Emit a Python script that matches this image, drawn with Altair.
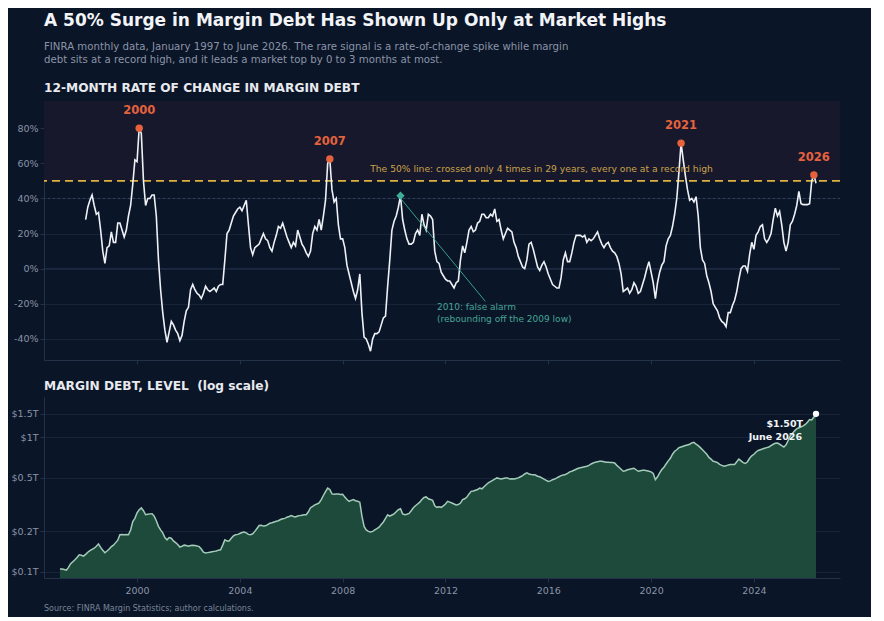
import altair as alt
import pandas as pd

# ---------------- data ----------------
ROC_START_YEAR = 1998  # 12-month rate of change, monthly from Jan 1998 (%)
roc_1998_2005 = [
    28, 35, 39, 42, 36, 31, 32, 22, 10, 3, 12, 13,
    21, 15, 15, 26, 26, 22, 18, 22, 30, 36, 48, 62,
    61, 80, 77, 50, 36, 40, 40, 42, 42, 30, 5, -12,
    -25, -35, -42, -36, -30, -32, -35, -37, -41, -38, -30, -24,
    -22, -12, -9, -12, -14, -15, -17, -14, -10, -12, -13, -12,
    -11, -13, -10, -9, -9, 5, 20, 22, 26, 30, 32, 34,
    35, 33, 36, 39, 25, 12, 8, 12, 13, 14, 17, 20,
    17, 16, 12, 10, 15, 19, 24, 23, 26, 22, 18, 15,
]
roc_2006_2013 = [
    12, 15, 13, 22, 18, 14, 12, 9, 7, 10, 20, 24,
    22, 28, 22, 30, 39, 60, 62.5, 45, 38, 40, 25, 17,
    17, 12, 2, -3, -8, -13, -17, -12, -3, -25, -39, -40,
    -43, -47, -40, -37, -37, -36, -32, -28, -27, -10, 5, 22,
    27, 30, 35, 41.6, 28, 22, 17, 14, 14, 15, 20, 22,
    19, 31, 25, 22, 31, 30, 28, 10, 4, 3, -2, -4,
    -6, -7, -7, -9, -11, -8, -7, 5, 13, 9, 15, 22,
    24, 21, 22, 26, 27, 31, 31, 29, 29, 31, 30, 34,
]
roc_2014_2021 = [
    27, 28, 22, 17, 20, 23, 22, 21, 15, 12, 7, 4,
    1, 0, 5, 14, 15, 11, 6, 1, -1, 2, 4, 1,
    -3, -6, -9, -10, -11, -11, -5, 5, 9, 4, 4, 9,
    15, 19, 19, 19, 18, 19, 15, 17, 16, 17, 19, 21,
    17, 14, 12, 14, 15, 12, 10, 9, 7, 3, -3, -13,
    -12, -11, -14, -12, -8, -10, -14, -13, -9, -5, 0, 4,
    -2, -8, -17, -8, -2, 2, 4, 13, 17, 19, 24, 31,
    40, 55, 71.5, 62, 53, 45, 39, 40, 38, 41, 30, 12,
]
roc_2022_2026 = [
    5, 3, -4, -8, -13, -20, -22, -24, -28, -30, -31, -33,
    -25, -25, -21, -18, -13, -6, 0, 1.5, 1.5, -1.5, 8, 15,
    11, 19, 21, 24, 25, 17, 15, 17, 20, 28, 34.5, 30,
    32.6, 25, 15, 10, 15, 25, 27, 31, 36, 44, 37, 36.5,
    36.5, 36.5, 37, 50, 53.4, 48.7,
]
roc_values = roc_1998_2005 + roc_2006_2013 + roc_2014_2021 + roc_2022_2026

LEVEL_START_YEAR = 1997  # margin debt level, monthly from Jan 1997 ($ trillion)
level_1997_2006 = [
    0.105, 0.105, 0.104, 0.103, 0.108, 0.115, 0.119, 0.123, 0.128, 0.134, 0.133, 0.131,
    0.135, 0.140, 0.144, 0.147, 0.150, 0.155, 0.161, 0.152, 0.145, 0.139, 0.143, 0.148,
    0.154, 0.158, 0.165, 0.172, 0.189, 0.190, 0.189, 0.190, 0.189, 0.205, 0.237, 0.250,
    0.275, 0.290, 0.299, 0.285, 0.266, 0.268, 0.270, 0.271, 0.260, 0.240, 0.218, 0.205,
    0.195, 0.180, 0.173, 0.180, 0.178, 0.170, 0.165, 0.160, 0.153, 0.155, 0.158, 0.157,
    0.155, 0.157, 0.158, 0.157, 0.156, 0.154, 0.148, 0.140, 0.138, 0.139, 0.140, 0.141,
    0.142, 0.143, 0.145, 0.146, 0.158, 0.173, 0.170, 0.170, 0.178, 0.185, 0.189, 0.190,
    0.193, 0.196, 0.198, 0.195, 0.190, 0.189, 0.192, 0.200, 0.210, 0.221, 0.222, 0.219,
    0.220, 0.225, 0.230, 0.232, 0.235, 0.238, 0.240, 0.245, 0.248, 0.250, 0.255, 0.258,
    0.262, 0.258, 0.256, 0.260, 0.262, 0.264, 0.266, 0.266, 0.280, 0.300, 0.307, 0.315,
]
level_2007_2016 = [
    0.320, 0.326, 0.345, 0.370, 0.395, 0.420, 0.410, 0.380, 0.378, 0.380, 0.380, 0.376,
    0.378, 0.360, 0.345, 0.335, 0.340, 0.345, 0.338, 0.335, 0.330, 0.260, 0.218, 0.205,
    0.200, 0.198, 0.200, 0.205, 0.210, 0.215, 0.225, 0.235, 0.250, 0.266, 0.260, 0.265,
    0.270, 0.280, 0.290, 0.295, 0.270, 0.266, 0.268, 0.272, 0.285, 0.300, 0.310, 0.320,
    0.330, 0.345, 0.358, 0.361, 0.350, 0.345, 0.340, 0.310, 0.302, 0.305, 0.302, 0.310,
    0.320, 0.335, 0.330, 0.325, 0.320, 0.315, 0.317, 0.325, 0.345, 0.350, 0.360, 0.380,
    0.397, 0.400, 0.405, 0.410, 0.420, 0.415, 0.430, 0.445, 0.460, 0.470, 0.480, 0.490,
    0.500, 0.495, 0.490, 0.495, 0.500, 0.500, 0.490, 0.492, 0.490, 0.495, 0.500, 0.510,
    0.520, 0.535, 0.545, 0.535, 0.530, 0.528, 0.525, 0.515, 0.510, 0.500, 0.490, 0.480,
    0.470, 0.475, 0.485, 0.490, 0.500, 0.510, 0.520, 0.525, 0.530, 0.540, 0.555, 0.560,
]
level_2017_2026 = [
    0.570, 0.580, 0.590, 0.595, 0.600, 0.605, 0.610, 0.620, 0.635, 0.645, 0.655, 0.660,
    0.665, 0.665, 0.660, 0.655, 0.655, 0.650, 0.650, 0.645, 0.620, 0.600, 0.580, 0.560,
    0.565, 0.575, 0.580, 0.585, 0.590, 0.575, 0.560, 0.565, 0.570, 0.570, 0.565, 0.560,
    0.555, 0.540, 0.485, 0.510, 0.545, 0.577, 0.600, 0.635, 0.670, 0.700, 0.750, 0.790,
    0.810, 0.840, 0.850, 0.860, 0.870, 0.880, 0.890, 0.910, 0.920, 0.890, 0.870, 0.840,
    0.810, 0.780, 0.750, 0.710, 0.690, 0.665, 0.660, 0.650, 0.630, 0.620, 0.610, 0.615,
    0.625, 0.628, 0.630, 0.630, 0.660, 0.690, 0.670, 0.650, 0.640, 0.660, 0.700, 0.730,
    0.750, 0.780, 0.800, 0.810, 0.820, 0.830, 0.840, 0.850, 0.870, 0.890, 0.905, 0.910,
    0.890, 0.870, 0.850, 0.880, 0.950, 1.030, 1.070, 1.120, 1.160, 1.180, 1.200, 1.220,
    1.250, 1.300, 1.360, 1.350, 1.420, 1.500,
]
level_values = level_1997_2006 + level_2007_2016 + level_2017_2026

peak_labels = ["2000", "2007", "2021", "2026"]
peak_months = [(2000, 2), (2007, 7), (2021, 3), (2026, 5)]
peak_values = [80.0, 62.5, 71.5, 53.4]

false_alarm_month = (2010, 4)
false_alarm_value = 41.6

year_ticks = [2000, 2004, 2008, 2012, 2016, 2020, 2024]
roc_ticks = [-40, -20, 0, 20, 40, 60, 80]
level_ticks = [0.1, 0.2, 0.5, 1, 1.5]
MONTH_NAMES = ["January", "February", "March", "April", "May", "June", "July",
               "August", "September", "October", "November", "December"]

TITLE = "A 50% Surge in Margin Debt Has Shown Up Only at Market Highs"
SUB1 = ("FINRA monthly data, January 1997 to June 2026. The rare signal is a "
        "rate-of-change spike while margin")
SUB2 = "debt sits at a record high, and it leads a market top by 0 to 3 months at most."
HEAD1 = "12-MONTH RATE OF CHANGE IN MARGIN DEBT"
HEAD2 = "MARGIN DEBT, LEVEL\u00a0 (log scale)"
LINE50_NOTE = "The 50% line: crossed only 4 times in 29 years, every one at a record high"
FALSE_NOTE = "2010: false alarm\n(rebounding off the 2009 low)"
SOURCE = "Source: FINRA Margin Statistics; author calculations."

# ---------------- frames ----------------
def mdate(y, m):
    return y + (m - 1) / 12.0

roc_df = pd.DataFrame({
    "t": [ROC_START_YEAR + i / 12.0 for i in range(len(roc_values))],
    "roc": roc_values,
})
lvl_df = pd.DataFrame({
    "t": [LEVEL_START_YEAR + i / 12.0 for i in range(len(level_values))],
    "lvl": level_values,
})
peak_df = pd.DataFrame({
    "t": [mdate(y, m) for y, m in peak_months],
    "roc": peak_values,
    "label": peak_labels,
})
fa_df = pd.DataFrame({"t": [mdate(*false_alarm_month)], "roc": [false_alarm_value]})
arrow_df = pd.DataFrame({"t": [2013.55], "roc": [-18.6],
                         "t2": [mdate(*false_alarm_month)], "roc2": [false_alarm_value - 1.5]})
fa_text_df = pd.DataFrame({"t": [2011.67], "roc": [-23.6], "label": [FALSE_NOTE]})
note50_df = pd.DataFrame({"t": [2009.07], "roc": [55.1], "label": [LINE50_NOTE]})
shade_df = pd.DataFrame({"lo": [50], "hi": [95.5]})
last_n = len(level_values) - 1
last_year = LEVEL_START_YEAR + last_n // 12
last_month = last_n % 12
last_df = pd.DataFrame({
    "t": [lvl_df["t"].iloc[-1]],
    "lvl": [level_values[-1]],
    "val": [f"${level_values[-1]:.2f}T"],
    "when": [f"{MONTH_NAMES[last_month]} {last_year}"],
})
one = pd.DataFrame({"k": [0]})

# ---------------- style ----------------
FONT = "DejaVu Sans"
BG = "#0a1528"
SHADE = "#17182c"
GRID = "#17243a"
AXIS_C = "#243249"
LABEL_C = "#8a94a6"
WHITE = "#eef1f5"
ORANGE = "#e5623d"
GOLD = "#dcb13e"
TEAL = "#3cae98"
TEAL_TXT = "#45a596"
AREA = "#1e4a3c"
AREA_LINE = "#a3cbb8"

W = 796
H_TOP = 259
H_LOW = 181
LEFT_ROOM = 36
TOP_ROOM = 93
X_DOMAIN = [1996.38, 2027.35]

x_scale = alt.Scale(domain=X_DOMAIN, nice=False, zero=False)
top_x_axis = alt.Axis(values=year_ticks, labels=False, title=None, grid=False,
                      ticks=True, tickSize=4, tickColor=AXIS_C, domainColor=AXIS_C)
low_x_axis = alt.Axis(values=year_ticks, format="d", title=None, grid=False,
                      ticks=True, tickSize=4, tickColor=AXIS_C, domainColor=AXIS_C,
                      labelPadding=3)
top_y_scale = alt.Scale(domain=[-52, 95.5], nice=False, zero=False)
top_y_axis = alt.Axis(values=roc_ticks, labelExpr="datum.value + '%'", title=None,
                      grid=True, gridColor=GRID, tickSize=4, tickColor=AXIS_C,
                      domainColor=AXIS_C, labelPadding=2)
low_y_scale = alt.Scale(type="log", domain=[0.09, 2.0], nice=False)
low_y_axis = alt.Axis(values=level_ticks, labelExpr="'$' + datum.value + 'T'", title=None,
                      grid=True, gridColor=GRID, tickSize=4, tickColor=AXIS_C,
                      domainColor=AXIS_C, labelPadding=2)


def tx(field="t"):
    return alt.X(f"{field}:Q", scale=x_scale, axis=top_x_axis)


def ty(field="roc"):
    return alt.Y(f"{field}:Q", scale=top_y_scale, axis=top_y_axis)


# ---------------- top panel ----------------
frame = alt.Chart(one).mark_rect(opacity=0).encode(
    x=alt.value(-LEFT_ROOM), x2=alt.value(W), y=alt.value(-TOP_ROOM), y2=alt.value(0))
shade = alt.Chart(shade_df).mark_rect(color=SHADE).encode(
    x=alt.value(0), x2=alt.value(W), y=ty("lo"), y2="hi:Q")
rule40 = alt.Chart(pd.DataFrame({"roc": [40]})).mark_rule(
    color="#34445c", strokeDash=[2, 3], strokeWidth=1).encode(y=ty())
rule0 = alt.Chart(pd.DataFrame({"roc": [0]})).mark_rule(
    color="#1f2e46", strokeWidth=1).encode(y=ty())
rule50 = alt.Chart(pd.DataFrame({"roc": [50]})).mark_rule(
    color=GOLD, strokeDash=[8, 5], strokeWidth=1.8).encode(y=ty())
roc_line = alt.Chart(roc_df).mark_line(color=WHITE, strokeWidth=1.6).encode(x=tx(), y=ty())
note50 = alt.Chart(note50_df).mark_text(
    font=FONT, fontSize=9.2, color="#c9a24a", align="left", baseline="alphabetic"
).encode(x=tx(), y=ty(), text="label:N")
arrow = alt.Chart(arrow_df).mark_rule(color=TEAL, strokeWidth=1, opacity=0.9).encode(
    x=tx(), y=ty(), x2="t2:Q", y2="roc2:Q")
fa_pt = alt.Chart(fa_df).mark_point(shape="diamond", filled=True, color=TEAL, size=70,
                                    opacity=1).encode(x=tx(), y=ty())
fa_text = alt.Chart(fa_text_df).mark_text(
    font=FONT, fontSize=9, color=TEAL_TXT, align="left", baseline="alphabetic",
    lineBreak="\n", lineHeight=11.5).encode(x=tx(), y=ty(), text="label:N")
peak_pts = alt.Chart(peak_df).mark_circle(color=ORANGE, size=55, opacity=1).encode(
    x=tx(), y=ty())
peak_txt = alt.Chart(peak_df).mark_text(
    font=FONT, fontSize=11.5, fontWeight="bold", color=ORANGE, baseline="middle", dy=-17
).encode(x=tx(), y=ty(), text="label:N")

title_t = alt.Chart(one).mark_text(text=TITLE, font=FONT, fontSize=17, fontWeight="bold",
                                   color="#f2f4f7", align="left", baseline="alphabetic"
                                   ).encode(x=alt.value(0), y=alt.value(-75))
sub1_t = alt.Chart(one).mark_text(text=SUB1, font=FONT, fontSize=10.2, color=LABEL_C,
                                  align="left", baseline="alphabetic"
                                  ).encode(x=alt.value(0), y=alt.value(-51.5))
sub2_t = alt.Chart(one).mark_text(text=SUB2, font=FONT, fontSize=10.2, color=LABEL_C,
                                  align="left", baseline="alphabetic"
                                  ).encode(x=alt.value(0), y=alt.value(-38.5))
head1_t = alt.Chart(one).mark_text(text=HEAD1, font=FONT, fontSize=12.2, fontWeight="bold",
                                   color="#e8eaee", align="left", baseline="alphabetic"
                                   ).encode(x=alt.value(0), y=alt.value(-9))

top = alt.layer(
    frame, shade, rule0, rule40, rule50, roc_line, note50, arrow, fa_pt, fa_text,
    peak_pts, peak_txt, title_t, sub1_t, sub2_t, head1_t
).properties(width=W, height=H_TOP)


# ---------------- lower panel ----------------
def lx(field="t"):
    return alt.X(f"{field}:Q", scale=x_scale, axis=low_x_axis)


def ly(field="lvl"):
    return alt.Y(f"{field}:Q", scale=low_y_scale, axis=low_y_axis, stack=None)


area = alt.Chart(lvl_df).mark_area(color=AREA, opacity=1).encode(
    x=lx(), y=ly(), y2=alt.value(H_LOW))
area_line = alt.Chart(lvl_df).mark_line(color=AREA_LINE, strokeWidth=1.5).encode(
    x=lx(), y=ly())
last_pt = alt.Chart(last_df).mark_circle(color="#ffffff", size=40, opacity=1).encode(
    x=lx(), y=ly())
last_val = alt.Chart(last_df).mark_text(
    font=FONT, fontSize=9.5, fontWeight="bold", color="#f2f4f7", align="right",
    baseline="middle", dx=-13, dy=10).encode(x=lx(), y=ly(), text="val:N")
last_when = alt.Chart(last_df).mark_text(
    font=FONT, fontSize=9.5, fontWeight="bold", color="#f2f4f7", align="right",
    baseline="middle", dx=-14, dy=23).encode(x=lx(), y=ly(), text="when:N")
head2_t = alt.Chart(one).mark_text(text=HEAD2, font=FONT, fontSize=12.2, fontWeight="bold",
                                   color="#e8eaee", align="left", baseline="alphabetic"
                                   ).encode(x=alt.value(0), y=alt.value(-7))
source_t = alt.Chart(one).mark_text(text=SOURCE, font=FONT, fontSize=8, color="#7b8597",
                                    align="left", baseline="alphabetic"
                                    ).encode(x=alt.value(0), y=alt.value(H_LOW + 33))

low = alt.layer(
    area, area_line, last_pt, last_val, last_when, head2_t, source_t
).properties(width=W, height=H_LOW)

chart = alt.vconcat(top, low, spacing=37, bounds="flush").properties(
    padding={"left": 0, "top": 0, "right": 30, "bottom": 4},
).configure(
    background=BG, font=FONT
).configure_view(
    strokeWidth=0
).configure_axis(
    labelFont=FONT, labelFontSize=9.5, labelColor=LABEL_C
)

chart.save("out.html", embed_options={"renderer": "svg", "actions": False})
